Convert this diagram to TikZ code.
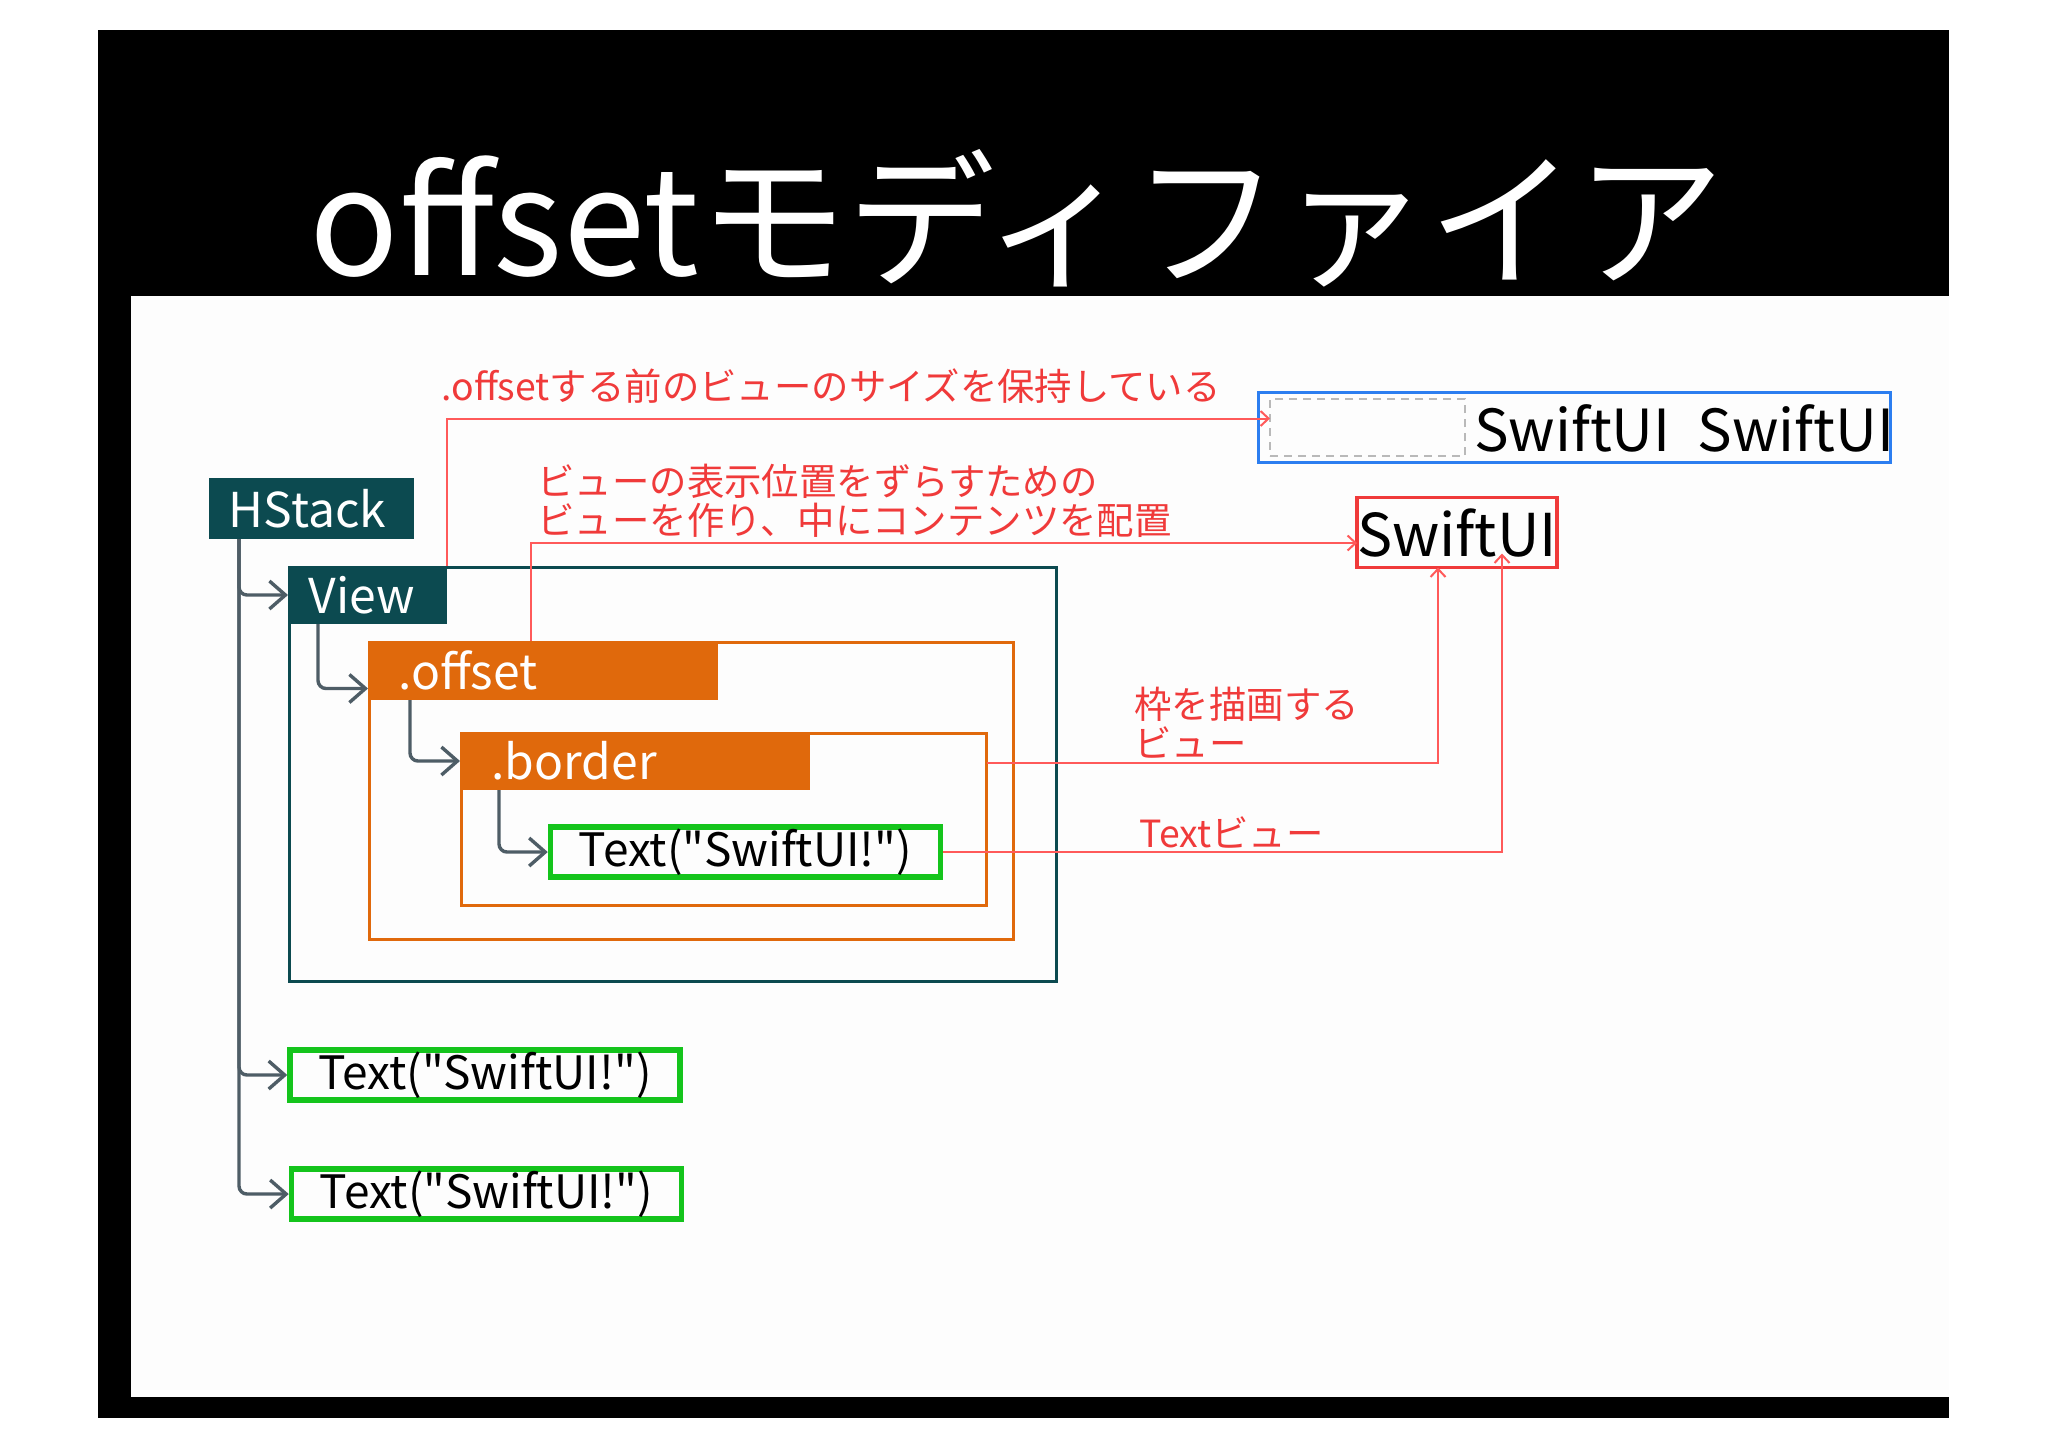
\documentclass[tikz,border=0pt]{standalone}
\usepackage{fontspec}
\setmainfont{Noto Sans CJK JP}[Ligatures=TeXOff]
\usetikzlibrary{arrows.meta,fit}
\definecolor{cteal}{HTML}{0C4A50}
\definecolor{corange}{HTML}{E0690C}
\definecolor{cgreen}{HTML}{14C41C}
\definecolor{cblue}{HTML}{2C7EF0}
\definecolor{cred}{HTML}{F03A3A}
\definecolor{credline}{HTML}{FF5A5A}
\definecolor{ctree}{HTML}{4E5D66}
\definecolor{cpaper}{HTML}{FDFDFD}
\begin{document}
\begin{tikzpicture}[x=0.5pt,y=-0.5pt,
  frame/.style={inner sep=0pt,outer sep=0pt},
  lbltext/.style={inner sep=0pt,text=white,font=\fontsize{24}{26}\selectfont},
  textbox/.style={draw=cgreen,line width=2.75pt,minimum width=195pt,minimum height=25pt,inner sep=0pt,font=\fontsize{23}{25}\selectfont},
  tree/.style={draw=ctree,line width=1.7pt,rounded corners=4pt,-{Straight Barb[length=8pt,width=14pt]}},
  redline/.style={draw=credline,line width=1pt,-{Straight Barb[length=4pt,width=7.5pt]}},
  ann/.style={inner sep=0pt,text=cred,align=left,font=\fontsize{18.7}{19.5}\selectfont},
  bigtext/.style={inner sep=0pt,font=\fontsize{29}{30}\selectfont}]
\useasboundingbox (0,0) rectangle (2048,1448);
\fill[white] (0,0) rectangle (2048,1448);
\fill[black] (98,30) rectangle (1949,1418);
\fill[cpaper] (131,296) rectangle (1949,1397);
% title
\node[inner sep=0pt,text=white,anchor=base,font=\fontsize{74}{76}\selectfont] (title) at (1017,275) {offsetモディファイア};
% outlines
\node[frame,draw=cteal,line width=1.6pt,fit={(289.5,567.5)(1056.5,981.5)}] (viewbox) {};
\node[frame,draw=corange,line width=1.5pt,fit={(369.5,642.5)(1013.5,939.5)}] (offbox) {};
\node[frame,draw=corange,line width=1.5pt,fit={(461.5,733.5)(986.5,905.5)}] (borderbox) {};
% labels
\node[frame,fill=cteal,fit={(209,478)(414,539)}] (hs) {};
\node[lbltext] (hstxt) at ([xshift=-2pt]hs.center) {HStack};
\node[frame,fill=cteal,fit={(288,566)(447,624)}] (viewlbl) {};
\node[lbltext] (viewtxt) at ([xshift=-3pt]viewlbl.center) {View};
\node[frame,fill=corange,fit={(368,641)(718,700)}] (offlbl) {};
\node[lbltext,anchor=west] (offtxt) at (398,670) {.offset};
\node[frame,fill=corange,fit={(460,732)(810,790)}] (borderlbl) {};
\node[lbltext,anchor=west] (bordertxt) at (491,761) {.border};
% text boxes
\node[textbox] (tin) at (745.5,852) {Text("SwiftUI!")};
\node[textbox] (t1) at (485,1075) {Text("SwiftUI!")};
\node[textbox] (t2) at (486.5,1194) {Text("SwiftUI!")};
% tree connectors
\draw[tree] ([xshift=15pt]hs.south west) |- (viewlbl.west);
\draw[tree] ([xshift=15pt]hs.south west) |- (t1.west);
\draw[tree] ([xshift=15pt]hs.south west) |- (t2.west);
\draw[tree] ([xshift=15pt]viewlbl.south west) |- ([yshift=-9pt]offlbl.west);
\draw[tree] ([xshift=21pt]offlbl.south west) |- (borderlbl.west);
\draw[tree] ([xshift=19.5pt]borderlbl.south west) |- (tin.west);
% right side
\node[frame,draw=cblue,line width=1.6pt,minimum width=316pt,minimum height=35pt] (bbox) at (1574.5,427.5) {};
\node[frame,draw=gray!55,dashed,dash pattern=on 4pt off 3pt,line width=1pt,minimum width=97.5pt,minimum height=28.5pt] (ghost) at (1367.5,427.5) {};
\node[bigtext] (sw1) at (1572.5,428) {SwiftUI};
\node[bigtext] (sw2) at (1796,428) {SwiftUI};
\node[frame,draw=cred,line width=1.6pt,minimum width=94.5pt,minimum height=35pt,font=\fontsize{29.5}{30}\selectfont] (rbox) at (1457,532.5) {SwiftUI};
% annotations
\node[ann,anchor=west] (ann1) at (441,386) {.offsetする前のビューのサイズを保持している};
\node[ann,anchor=west] (ann2) at (537,501) {ビューの表示位置をずらすための\\ビューを作り、中にコンテンツを配置};
\node[ann,anchor=west] (ann3) at (1134,723) {枠を描画する\\ビュー};
\node[ann,anchor=west] (ann4) at (1139,832) {Textビュー};
% red connectors
\draw[redline] (viewlbl.north east) |- ([yshift=4.5pt]ghost.west);
\draw[redline] ([xshift=81.5pt]offlbl.north west) |- ([yshift=-5.25pt]rbox.west);
\draw[redline] ([yshift=28.25pt]borderbox.east) -| ([xshift=-9.5pt]rbox.south);
\draw[redline] (tin.east) -| ([xshift=22.5pt,yshift=7pt]rbox.south);
\end{tikzpicture}
\end{document}
